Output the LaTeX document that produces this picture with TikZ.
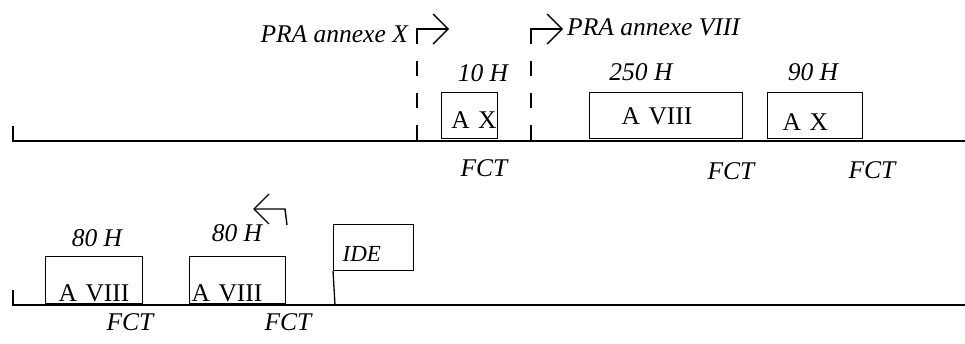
\documentclass[tikz,border=0pt]{standalone}
\usepackage{fontspec}
\setmainfont{Liberation Serif}
\usetikzlibrary{arrows.meta,positioning}
\tikzset{
  boite/.style={draw,line width=1.3pt,inner ysep=0pt,font=\fontsize{25.5}{25.5}\selectfont},
  etiq/.style={anchor=base,inner sep=0pt,font=\fontsize{25.5}{25.5}\selectfont\itshape},
  axe/.style={line width=1.5pt},
  fleche/.style={line width=1.4pt,-{Straight Barb[length=15pt,width=30pt,line width=1.4pt]}},
  repere/.style={line width=1.4pt,dash pattern=on 15pt off 17pt},
}

\begin{document}
\begin{tikzpicture}[x=1pt,y=-1pt]
  \useasboundingbox (0,0) rectangle (965,344);
  % ligne du haut
  \coordinate (h0) at (13,126); \coordinate (h1) at (13,141); \coordinate (h2) at (965,141);
  \draw[axe] (h0) -- (h1) -- (h2);
  \coordinate (px) at (417,29); \coordinate (pxs) at (417,44); \coordinate (pxb) at (417,141); \coordinate (pxf) at (449,29);
  \coordinate (pv) at (531,29); \coordinate (pvs) at (531,44); \coordinate (pvb) at (531,141); \coordinate (pvf) at (563,29);
  \draw[repere] (px) -- (pxb); \draw[fleche] (pxs) -- (px) -- (pxf);
  \draw[repere] (pv) -- (pvb); \draw[fleche] (pvs) -- (pv) -- (pvf);
  \node[etiq,anchor=base east] (prax) at (408,43) {PRA annexe X};
  \node[etiq,anchor=base west] (prav) at (567,36) {PRA annexe VIII};
  \node[boite,anchor=south west,inner xsep=1pt,text width=54pt,align=right,text height=36pt,text depth=10pt] (ax1) at (441,139) {A X};
  \node[boite,anchor=south west,inner xsep=32pt,text width=89pt,align=left,text height=32pt,text depth=14pt] (av1) at (589,139) {A VIII};
  \node[boite,anchor=south west,inner xsep=15pt,text width=65pt,align=left,text height=38pt,text depth=8pt] (ax2) at (767,139) {A X};
  \node[etiq] (h10) at (483,82) {10 H};
  \node[etiq] (h250) at (641,81) {250 H};
  \node[etiq] (h90) at (813,81) {90 H};
  \node[etiq] (f1) at (484,177) {FCT};
  \node[etiq] (f2) at (731,180) {FCT};
  \node[etiq] (f3) at (872,179) {FCT};
  % ligne du bas
  \coordinate (b0) at (13,290); \coordinate (b1) at (13,305); \coordinate (b2) at (965,305);
  \draw[axe] (b0) -- (b1) -- (b2);
  \node[boite,anchor=south west,inner xsep=13pt,text width=71pt,align=left,text height=45pt,text depth=2pt] (av2) at (45,304) {A VIII};
  \node[boite,anchor=south west,inner xsep=2pt,text width=92pt,align=left,text height=45pt,text depth=2pt] (av3) at (189,304) {A VIII};
  \node[boite,anchor=south west,inner xsep=9pt,text width=62pt,align=left,text height=37pt,text depth=9pt,font=\fontsize{23}{23}\selectfont\itshape] (ide) at (333,271) {IDE};
  \coordinate (i1) at (335,305);
  \draw[line width=1.3pt] (ide.south west) -- (i1);
  \coordinate (r0) at (287,225); \coordinate (r1) at (285,209); \coordinate (r2) at (253,209);
  \draw[fleche] (r0) -- (r1) -- (r2);
  \node[etiq] (h80a) at (97,247) {80 H};
  \node[etiq] (h80b) at (237,242) {80 H};
  \node[etiq] (f4) at (130,330) {FCT};
  \node[etiq] (f5) at (288,330) {FCT};
\end{tikzpicture}
\end{document}
